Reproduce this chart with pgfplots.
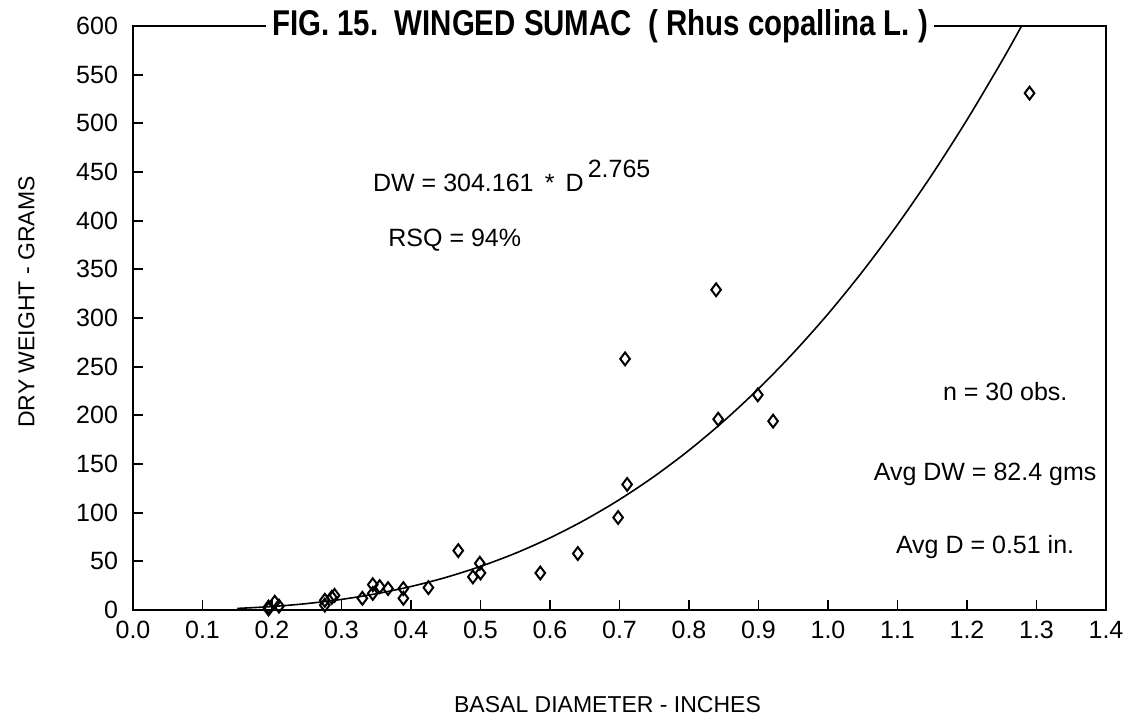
\documentclass[border=0pt]{standalone}
\usepackage{fontspec}
\setmainfont{Liberation Sans}
\usepackage{pgfplots}
\pgfplotsset{compat=1.18}

\begin{document}
\begin{tikzpicture}
% fixed page frame around the plot box
\path[use as bounding box] (-66.5pt,-53pt) rectangle (495.5pt,305pt);
\begin{axis}[
  scale only axis,
  width=486.5pt, height=292pt,
  xmin=0, xmax=1.4, ymin=0, ymax=600,
  axis line style={line width=1.1pt},
  xtick={0,0.1,...,1.4},
  ytick={0,50,...,600},
  xticklabel style={/pgf/number format/.cd,fixed,fixed zerofill,precision=1},
  /pgf/number format/assume math mode=true,
  tick label style={font=\fontsize{12.5}{14}\selectfont},
  tick align=inside,
  xtick pos=bottom, ytick pos=left,
  major tick length=5pt,
  tick style={line width=0.9pt, black},
  xticklabel shift=2pt,
  yticklabel shift=4pt,
  xlabel={BASAL DIAMETER - INCHES},
  ylabel={DRY WEIGHT - GRAMS},
  label style={font=\fontsize{11.5}{13}\selectfont},
  xlabel style={yshift=-22pt, xshift=-6pt},
  ylabel style={yshift=14pt, xshift=8pt},
  clip=false,
]
% fitted curve DW = 304.161 * D^2.765
\addplot[black, line width=0.8pt, smooth] coordinates {
  (0.15,1.603) (0.20,3.552) (0.25,6.583) (0.30,10.90) (0.35,16.69)
  (0.40,24.14) (0.45,33.44) (0.50,44.76) (0.55,58.24) (0.60,74.09)
  (0.65,92.44) (0.70,113.45) (0.75,137.3) (0.80,164.1) (0.85,194.1)
  (0.90,227.3) (0.95,264.0) (1.00,304.16) (1.05,348.1) (1.10,395.9)
  (1.15,447.7) (1.20,503.6) (1.25,563.7) (1.2785,600)
};
% observations
\addplot[only marks, mark=diamond, mark size=3.2pt,
  mark options={line width=1pt, fill=white, draw=black}] coordinates {
  (1.290,531) (0.839,329) (0.708,258) (0.842,196) (0.899,221)
  (0.921,194) (0.711,129) (0.698,95) (0.640,58) (0.586,38)
  (0.468,61) (0.499,48) (0.489,34) (0.500,38) (0.425,23)
  (0.389,22) (0.389,12) (0.367,22) (0.355,24) (0.345,26)
  (0.345,17) (0.330,12) (0.286,13) (0.290,15) (0.276,10)
  (0.276,5) (0.204,8) (0.210,4) (0.195,3) (0.195,1)
};
% title breaking the top frame line
\node[fill=white, inner xsep=3pt, inner ysep=1pt, font=\fontsize{16}{18}\bfseries\selectfont]
  at (axis cs:0.672,600) {\scalebox{0.92}[1.12]{FIG. 15.\ \ WINGED SUMAC\ \ ( Rhus copallina L. )}};
\node[font=\fontsize{12.5}{14}\selectfont] at (axis cs:0.545,446)
  {DW = 304.161 \,*\, D\,\raisebox{7pt}{2.765}};
\node[font=\fontsize{12.5}{14}\selectfont] at (axis cs:0.463,380) {RSQ = 94\%};
\node[font=\fontsize{12.5}{14}\selectfont] at (axis cs:1.255,224) {n = 30 obs.};
\node[font=\fontsize{12.5}{14}\selectfont] at (axis cs:1.226,139) {Avg DW = 82.4 gms};
\node[font=\fontsize{12.5}{14}\selectfont] at (axis cs:1.226,65) {Avg D = 0.51 in.};
\end{axis}
\end{tikzpicture}
\end{document}
